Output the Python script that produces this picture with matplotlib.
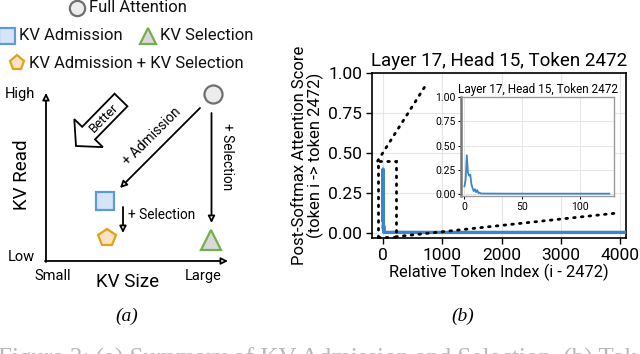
import numpy as np
import matplotlib
matplotlib.use("Agg")
import matplotlib.pyplot as plt
from matplotlib.patches import FancyArrowPatch, FancyArrow, Rectangle

plt.rcParams['font.family'] = ['Roboto', 'DejaVu Sans']

# ---- data ----
# (a) schematic: position in figure pixels (x, y from top)
legend_names = ["Full Attention", "KV Admission", "KV Selection", "KV Admission + KV Selection"]
legend_pos = [(77, 8), (7, 36), (148, 36), (17, 63)]
method_pos = [(213, 94), (105, 201), (211, 240), (107, 238)]
markers = ["o", "s", "^", "p"]
faces = ["#ececec", "#d5e5f7", "#d9d9d9", "#fde2c6"]
edges = ["#6f6f6f", "#5d9bd6", "#76ad4f", "#e0a21a"]

# (b) attention scores
inset_idx = [0, 1, 2, 3, 4, 5, 6, 7, 8, 9, 10, 11, 12, 13, 14, 20, 40, 60, 80, 100, 125]
inset_val = [0.08, 0.15, 0.40, 0.22, 0.19, 0.20, 0.10, 0.06, 0.03, 0.05, 0.02, 0.04,
             0.01, 0.015, 0.006, 0.005, 0.004, 0.004, 0.004, 0.004, 0.004]
tail_idx = [200, 500, 1000, 1500, 2000, 2500, 3000, 3500, 4000, 4100]
tail_val = [0.005, 0.004, 0.004, 0.004, 0.004, 0.004, 0.004, 0.004, 0.004, 0.004]
main_idx = inset_idx + tail_idx
main_val = inset_val + tail_val

blue = "#3a86c6"

fig = plt.figure(figsize=(6.4, 3.54), dpi=100)

# ---- (a) overlay axes in pixel units ----
ov = fig.add_axes([0, 0, 1, 1])
ov.set_xlim(0, 640)
ov.set_ylim(354, 0)
ov.axis("off")

for (x, y), m, fc, ec, name in zip(legend_pos, markers, faces, edges, legend_names):
    ov.plot(x, y, marker=m, ms=11 if m != "^" else 12, mfc=fc, mec=ec, mew=1.6, ls="none")
    ov.text(x + 12, y, name, fontsize=12, va="center", ha="left", color="#111111")

for (x, y), m, fc, ec in zip(method_pos, markers, faces, edges):
    ov.plot(x, y, marker=m, ms=13 if m != "^" else 15, mfc=fc, mec=ec, mew=1.6, ls="none")

def arr(p0, p1, lw=1.3):
    ov.add_patch(FancyArrowPatch(p0, p1, arrowstyle="-|>", mutation_scale=10,
                                 fc="white", ec="black", lw=lw, shrinkA=0, shrinkB=0))

# axes of schematic
arr((46, 262), (46, 93))
arr((45, 261), (228, 261))
ov.text(35, 94, "High", fontsize=10.5, ha="right", va="center")
ov.text(35, 257, "Low", fontsize=10.5, ha="right", va="center")
ov.text(53, 276, "Small", fontsize=10.5, ha="center", va="center")
ov.text(203, 276, "Large", fontsize=10.5, ha="center", va="center")
ov.text(128, 282, "KV Size", fontsize=13.5, ha="center", va="center")
ov.text(22, 175, "KV Read", fontsize=13.5, ha="center", va="center", rotation=90)

arr((200, 108), (120, 188))
ov.text(152, 136, "+ Admission", fontsize=9.8, ha="center", va="center", rotation=45)
arr((211.5, 113), (211.5, 223))
ov.text(227, 157, "+ Selection", fontsize=9.8, ha="center", va="center", rotation=-90)
arr((123, 207), (123, 233))
ov.text(162, 215, "+ Selection", fontsize=9.8, ha="center", va="center")

ov.add_patch(FancyArrow(121, 100, -45, 46, width=18, head_width=40, head_length=18,
                        length_includes_head=True, fc="white", ec="black", lw=1.3))
ov.text(104, 118, "Better", fontsize=9.5, ha="center", va="center", rotation=45)

ov.text(127, 316, "(a)", fontsize=14, ha="center", va="center", style="italic",
        family="Liberation Serif")
ov.text(463, 316, "(b)", fontsize=14, ha="center", va="center", style="italic",
        family="Liberation Serif")
ov.text(-2, 348, "Figure 3: (a) Summary of KV Admission and Selection. (b) Token",
        fontsize=18, ha="left", va="top", color="#b8b8b8", family="Liberation Serif")

# ---- (b) main axes ----
ax = fig.add_axes([372 / 640, 116 / 354, 254 / 640, 165 / 354])
ax.plot(main_idx, main_val, color=blue, lw=2.4, zorder=3)
ax.set_xlim(-185, 4100)
ax.set_ylim(-0.031, 1.0)
ax.set_xticks([0, 1000, 2000, 3000, 4000])
ax.set_yticks([0, 0.25, 0.5, 0.75, 1.0])
ax.set_yticklabels(["0.00", "0.25", "0.50", "0.75", "1.00"])
ax.tick_params(labelsize=12.5, length=4, width=1, pad=3)
ax.grid(color="#e6e6e6", lw=0.8)
ax.set_axisbelow(True)
for s in ax.spines.values():
    s.set_linewidth(1.2)
ax.set_xlabel("Relative Token Index (i - 2472)", fontsize=11.8, labelpad=1)
ax.set_ylabel("Post-Softmax Attention Score\n(token i -> token 2472)", fontsize=12,
              labelpad=3, linespacing=1.0)
ax.set_title("Layer 17, Head 15, Token 2472", fontsize=13.5, pad=5)

dots = dict(color="black", lw=2, ls=(0, (0.6, 2.2)), dash_capstyle="round", clip_on=False)
ax.add_patch(Rectangle((-90, -0.023), 305, 0.473, fill=False, ec="black", lw=2,
                       ls=(0, (0.6, 2.2)), capstyle="round", zorder=4, clip_on=False))
ax.plot([-90, 743], [0.45, 0.936], zorder=4, **dots)
ax.plot([215, 3950], [-0.023, 0.125], zorder=4, **dots)

# ---- inset ----
ins = fig.add_axes([461 / 640, 158 / 354, 153 / 640, 99 / 354])
ins.set_facecolor("white")
ins.plot(inset_idx, inset_val, color=blue, lw=1.3)
ins.set_xlim(-3, 129)
ins.set_ylim(-0.02, 1.0)
ins.set_xticks([0, 50, 100])
ins.set_yticks([0, 0.25, 0.5, 0.75, 1.0])
ins.set_yticklabels(["0.00", "0.25", "0.50", "0.75", "1.00"])
ins.tick_params(labelsize=7.5, length=2.5, width=0.7, pad=1.5)
ins.grid(color="#e6e6e6", lw=0.7)
ins.set_axisbelow(True)
for k, s in ins.spines.items():
    s.set_color("#9a9a9a")
    s.set_linewidth(1.0)
ins.spines["left"].set_color("#777777")
ins.spines["left"].set_linewidth(1.8)
ins.set_title("Layer 17, Head 15, Token 2472", fontsize=8.5, pad=3)

fig.savefig("out.png", dpi=100)
